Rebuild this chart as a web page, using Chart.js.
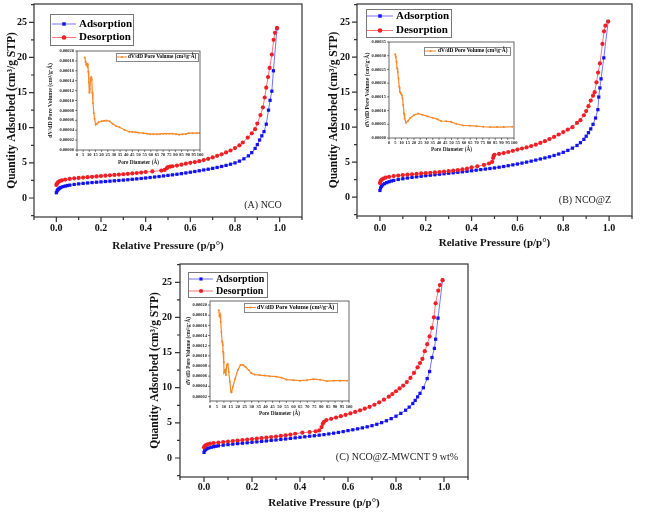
<!DOCTYPE html>
<html><head><meta charset="utf-8">
<script src="https://cdn.jsdelivr.net/npm/chart.js@4.4.1/dist/chart.umd.min.js"></script>
<style>
html,body{margin:0;padding:0;background:#fff;}
#wrap{position:relative;width:669px;height:514px;overflow:hidden;background:#fff;}
canvas{position:absolute;}
</style></head><body><div id="wrap">
<canvas id="mainA" width="310" height="255" style="left:0px;top:0px;width:310px;height:255px"></canvas>
<canvas id="mainB" width="347" height="255" style="left:322px;top:0px;width:347px;height:255px"></canvas>
<canvas id="mainC" width="330" height="256" style="left:145px;top:258px;width:330px;height:256px"></canvas>
<canvas id="insA" width="160" height="125" style="left:45px;top:45px;width:160px;height:125px"></canvas>
<canvas id="insB" width="165" height="125" style="left:355px;top:35px;width:165px;height:125px"></canvas>
<canvas id="insC" width="172" height="125" style="left:182px;top:295px;width:172px;height:125px"></canvas>
</div>
<script>
// ---------------- DATA ----------------
const seriesNames = ['Adsorption', 'Desorption'];
const panelLabels = ['(A) NCO', '(B) NCO@Z', '(C) NCO@Z-MWCNT 9 wt%'];
const xTitle = 'Relative Pressure (p/p°)';
const yTitle = 'Quantity Adsorbed (cm³/g STP)';
const insetName = 'dV/dD Pore Volume (cm³/g·Å)';
const insetXTitle = 'Pore Diameter (Å)';
const insetYTitle = 'dV/dD Pore Volume (cm³/g·Å)';

// tick values
const xTicksMain = [0, 0.2, 0.4, 0.6, 0.8, 1.0];
const yTicksMain = [0, 5, 10, 15, 20, 25];
const xTicksInset = [0, 5, 10, 15, 20, 25, 30, 35, 40, 45, 50, 55, 60, 65, 70, 75, 80, 85, 90, 95, 100];
const yTicksInsetA = [0, 0.00002, 0.00004, 0.00006, 0.00008, 0.0001, 0.00012, 0.00014, 0.00016, 0.00018, 0.0002];
const yTicksInsetB = [0, 0.00005, 0.0001, 0.00015, 0.0002, 0.00025, 0.0003, 0.00035];
const yTicksInsetC = [0.00002, 0.00004, 0.00006, 0.00008, 0.0001, 0.00012, 0.00014, 0.00016, 0.00018, 0.0002];

// [relative pressure, quantity adsorbed]
const adsA = [[0,0.75],[0.003,1.0],[0.006,1.15],[0.01,1.28],[0.015,1.4],[0.02,1.5],[0.03,1.62],[0.04,1.7],[0.05,1.77],[0.06,1.83],[0.08,1.93],[0.1,2.01],[0.12,2.08],[0.14,2.14],[0.16,2.2],[0.18,2.25],[0.2,2.3],[0.22,2.35],[0.24,2.4],[0.26,2.45],[0.28,2.5],[0.3,2.55],[0.32,2.6],[0.34,2.66],[0.36,2.72],[0.38,2.78],[0.4,2.85],[0.42,2.92],[0.44,2.99],[0.46,3.06],[0.48,3.14],[0.5,3.22],[0.52,3.3],[0.54,3.38],[0.56,3.47],[0.58,3.57],[0.6,3.67],[0.62,3.77],[0.64,3.88],[0.66,3.99],[0.68,4.1],[0.7,4.22],[0.72,4.35],[0.74,4.49],[0.76,4.64],[0.78,4.81],[0.8,5.0],[0.82,5.25],[0.84,5.58],[0.86,6.0],[0.875,6.45],[0.89,7.05],[0.9,7.6],[0.91,8.25],[0.92,8.85],[0.93,9.45],[0.94,10.5],[0.95,12.5],[0.957,13.9],[0.965,15.2],[0.972,18.1],[0.988,24.1]];
const desA = [[0,1.85],[0.003,2.05],[0.008,2.25],[0.015,2.4],[0.025,2.52],[0.04,2.62],[0.06,2.72],[0.08,2.8],[0.1,2.86],[0.12,2.91],[0.14,2.96],[0.16,3.01],[0.18,3.07],[0.2,3.13],[0.22,3.18],[0.24,3.23],[0.26,3.28],[0.28,3.33],[0.3,3.38],[0.32,3.44],[0.34,3.5],[0.36,3.56],[0.38,3.62],[0.4,3.7],[0.43,3.78],[0.47,3.9],[0.485,4.0],[0.495,4.25],[0.5,4.4],[0.51,4.47],[0.52,4.52],[0.54,4.62],[0.56,4.75],[0.58,4.88],[0.6,5.0],[0.62,5.12],[0.64,5.24],[0.66,5.4],[0.68,5.58],[0.7,5.78],[0.72,6.0],[0.74,6.22],[0.76,6.48],[0.78,6.76],[0.8,7.1],[0.82,7.5],[0.835,7.9],[0.857,8.6],[0.875,9.2],[0.89,9.8],[0.9,10.6],[0.914,11.8],[0.925,12.9],[0.933,14.3],[0.94,15.7],[0.948,17.2],[0.955,18.5],[0.965,20.4],[0.973,22.5],[0.979,23.5],[0.988,24.2]];

const adsB = [[0,0.95],[0.003,1.3],[0.007,1.55],[0.012,1.75],[0.02,1.92],[0.03,2.07],[0.04,2.2],[0.05,2.3],[0.06,2.38],[0.08,2.52],[0.1,2.63],[0.12,2.73],[0.14,2.82],[0.16,2.9],[0.18,2.98],[0.2,3.06],[0.22,3.13],[0.24,3.2],[0.26,3.27],[0.28,3.34],[0.3,3.41],[0.32,3.48],[0.34,3.55],[0.36,3.62],[0.38,3.69],[0.4,3.77],[0.42,3.85],[0.44,3.93],[0.46,4.01],[0.48,4.09],[0.5,4.17],[0.52,4.27],[0.54,4.37],[0.56,4.49],[0.58,4.61],[0.6,4.73],[0.62,4.86],[0.64,5.0],[0.66,5.14],[0.68,5.29],[0.7,5.45],[0.72,5.6],[0.74,5.76],[0.76,5.95],[0.78,6.16],[0.8,6.4],[0.82,6.68],[0.84,7.0],[0.86,7.38],[0.875,7.78],[0.89,8.25],[0.9,8.7],[0.91,9.2],[0.92,9.75],[0.93,10.4],[0.941,11.3],[0.951,12.5],[0.955,14.3],[0.96,15.6],[0.965,16.9],[0.977,19.9],[0.996,25.1]];
const desB = [[0,2.0],[0.003,2.3],[0.008,2.5],[0.015,2.65],[0.025,2.78],[0.04,2.9],[0.06,3.0],[0.08,3.08],[0.1,3.15],[0.12,3.21],[0.14,3.27],[0.16,3.32],[0.18,3.38],[0.2,3.43],[0.22,3.48],[0.24,3.53],[0.26,3.59],[0.28,3.65],[0.3,3.72],[0.32,3.79],[0.34,3.87],[0.36,3.96],[0.38,4.06],[0.4,4.25],[0.425,4.4],[0.454,4.6],[0.476,4.8],[0.49,5.05],[0.494,5.6],[0.497,5.95],[0.5,6.05],[0.52,6.17],[0.54,6.3],[0.56,6.45],[0.58,6.62],[0.6,6.8],[0.62,6.95],[0.64,7.1],[0.66,7.3],[0.68,7.5],[0.7,7.75],[0.72,8.0],[0.74,8.3],[0.76,8.6],[0.78,8.95],[0.8,9.3],[0.82,9.65],[0.84,10.0],[0.86,10.6],[0.875,11.0],[0.89,11.7],[0.9,12.3],[0.91,13.0],[0.92,13.8],[0.93,14.5],[0.937,15.0],[0.945,16.4],[0.952,17.8],[0.96,19.1],[0.971,21.9],[0.978,23.7],[0.984,24.5],[0.996,25.1]];

const adsC = [[0,0.8],[0.003,1.05],[0.007,1.22],[0.012,1.33],[0.02,1.43],[0.03,1.53],[0.04,1.61],[0.05,1.68],[0.06,1.74],[0.08,1.83],[0.1,1.91],[0.12,1.98],[0.14,2.05],[0.16,2.11],[0.18,2.17],[0.2,2.24],[0.22,2.3],[0.24,2.36],[0.26,2.43],[0.28,2.5],[0.3,2.57],[0.32,2.64],[0.34,2.71],[0.36,2.79],[0.38,2.87],[0.4,2.95],[0.42,3.02],[0.44,3.1],[0.46,3.17],[0.48,3.25],[0.5,3.33],[0.52,3.43],[0.54,3.53],[0.56,3.64],[0.58,3.76],[0.6,3.9],[0.62,4.02],[0.64,4.15],[0.66,4.29],[0.68,4.44],[0.7,4.6],[0.72,4.8],[0.74,5.03],[0.76,5.3],[0.78,5.6],[0.8,5.95],[0.82,6.35],[0.84,6.8],[0.855,7.24],[0.87,7.75],[0.88,8.2],[0.89,8.7],[0.9,9.2],[0.914,10.0],[0.93,11.3],[0.94,12.3],[0.95,14.3],[0.96,15.6],[0.965,16.9],[0.975,19.9],[0.994,25.3]];
const desC = [[0,1.52],[0.003,1.7],[0.008,1.84],[0.015,1.95],[0.025,2.04],[0.04,2.12],[0.06,2.2],[0.08,2.27],[0.1,2.35],[0.12,2.42],[0.14,2.49],[0.16,2.56],[0.18,2.63],[0.2,2.7],[0.22,2.77],[0.24,2.84],[0.26,2.91],[0.28,2.98],[0.3,3.06],[0.32,3.14],[0.34,3.23],[0.36,3.33],[0.38,3.45],[0.41,3.6],[0.44,3.7],[0.465,3.8],[0.48,3.92],[0.49,4.4],[0.495,4.86],[0.5,5.15],[0.51,5.4],[0.53,5.58],[0.55,5.76],[0.57,5.95],[0.59,6.15],[0.61,6.35],[0.63,6.56],[0.65,6.78],[0.67,7.02],[0.69,7.28],[0.71,7.58],[0.73,7.92],[0.75,8.3],[0.77,8.72],[0.785,9.1],[0.8,9.5],[0.815,9.9],[0.83,10.3],[0.845,10.8],[0.86,11.4],[0.875,12.1],[0.89,12.9],[0.9,13.5],[0.91,14.1],[0.92,15.2],[0.93,16.2],[0.94,17.3],[0.95,18.5],[0.958,20.0],[0.965,22.0],[0.976,23.8],[0.983,24.6],[0.994,25.3]];

// [pore diameter (Å), dV/dD pore volume]
const poreA = [[6.3,0.000187],[7.0,0.000178],[7.5,0.000172],[8.0,0.000175],[8.5,0.000168],[8.9,0.000173],[9.2,0.000158],[9.6,0.000137],[10.0,0.000116],[10.5,0.000123],[11.0,0.000144],[11.5,0.000147],[12.0,0.000142],[12.5,0.000116],[13.0,0.000095],[13.7,0.000074],[14.3,0.000063],[15.2,0.000051],[16.3,0.000053],[17.6,0.000056],[20.0,0.000058],[22.0,0.000059],[24.0,0.0000595],[26.5,0.000058],[29.0,0.000053],[32.0,0.000048],[34.5,0.000046],[38.5,0.000041],[42.5,0.000037],[45.0,0.0000365],[47.5,0.000036],[50.0,0.000035],[54.0,0.000034],[57.0,0.000033],[59.5,0.000032],[62.0,0.000032],[65.0,0.000032],[67.5,0.0000325],[70.0,0.000033],[72.5,0.000033],[75.0,0.000033],[77.5,0.000033],[80.5,0.000032],[83.0,0.000031],[86.0,0.000032],[88.5,0.0000325],[91.0,0.000034],[94.0,0.000034],[97.5,0.000034],[100.0,0.0000345]];
const poreB = [[5.0,0.000305],[5.4,0.000296],[6.0,0.000278],[6.5,0.000254],[7.0,0.000241],[7.6,0.000217],[8.2,0.000187],[8.7,0.000168],[9.5,0.000162],[10.3,0.000156],[10.9,0.000144],[11.4,0.00012],[12.0,0.000089],[12.5,0.000071],[13.6,0.000056],[15.2,0.000062],[17.1,0.000073],[19.8,0.000083],[23.4,0.000089],[26.6,0.000085],[30.7,0.000079],[34.8,0.000074],[38.9,0.000068],[41.6,0.000062],[45.7,0.000061],[49.7,0.000059],[53.8,0.000052],[59.2,0.000046],[64.7,0.000045],[70.1,0.000043],[75.5,0.000041],[81.0,0.00004],[86.4,0.00004],[91.8,0.00004],[98.6,0.000041]];
const poreC = [[6.3,0.00019],[6.8,0.000179],[7.2,0.000182],[7.7,0.000167],[8.2,0.000147],[8.7,0.000128],[9.2,0.000121],[9.4,0.000108],[9.9,0.000088],[10.1,0.000067],[10.9,0.000072],[11.4,0.000062],[12.1,0.000082],[12.8,0.000084],[13.5,0.000068],[14.3,0.000049],[15.0,0.000029],[15.5,0.000028],[16.4,0.000039],[18.1,0.000055],[20.0,0.000072],[22.0,0.000082],[23.7,0.000082],[25.6,0.000078],[27.8,0.000072],[29.7,0.000066],[32.1,0.000063],[35.7,0.000062],[39.4,0.000061],[43.0,0.00006],[47.8,0.000059],[51.4,0.000057],[55.1,0.000053],[59.9,0.000052],[64.7,0.000051],[69.6,0.000052],[74.4,0.000054],[79.2,0.000053],[84.1,0.00005],[88.9,0.000051],[93.7,0.000051],[98.6,0.000051]];

// ---------------- RENDERING ----------------
const SERIF = '"Liberation Serif", "Times New Roman", serif';
const BLUE = '#1212ee', BLUE_LINE = 'rgba(90,90,255,0.85)';
const RED = '#ee1f25', RED_LINE = 'rgba(255,90,100,0.85)';
const ORANGE = '#f5882a';

function drawMarker(ctx, style, x, y, r, color) {
  ctx.fillStyle = color;
  ctx.beginPath();
  if (style === 'rect') ctx.rect(x - r * 0.75, y - r * 0.75, r * 1.5, r * 1.5);
  else ctx.arc(x, y, r, 0, Math.PI * 2);
  ctx.fill();
}

const framePlugin = {
  id: 'frame',
  beforeDraw(chart, args, o) {
    if (!o.fill) return;
    const a = chart.chartArea, ctx = chart.ctx;
    ctx.save(); ctx.fillStyle = '#fff';
    ctx.fillRect(a.left, a.top, a.right - a.left, a.bottom - a.top);
    ctx.restore();
  },
  afterDraw(chart, args, o) {
    const ctx = chart.ctx, a = chart.chartArea;
    const xs = chart.scales.x, ys = chart.scales.y;
    ctx.save();
    ctx.strokeStyle = o.color; ctx.lineWidth = o.lw;
    ctx.strokeRect(a.left, a.top, a.right - a.left, a.bottom - a.top);
    const marks = (scale) => {
      const vals = scale.ticks.map(t => t.value);
      const out = vals.map(v => [v, o.major]);
      if (o.minor && vals.length > 1) {
        const st = vals[1] - vals[0];
        for (let i = 0; i < vals.length - 1; i++) out.push([(vals[i] + vals[i + 1]) / 2, o.minor]);
        out.push([vals[0] - st / 2, o.minor], [vals[vals.length - 1] + st / 2, o.minor]);
      }
      const eps = (scale.max - scale.min) * 1e-6;
      return out.filter(m => m[0] >= scale.min - eps && m[0] <= scale.max + eps);
    };
    ctx.beginPath();
    marks(xs).forEach(([v, len]) => { const px = xs.getPixelForValue(v); ctx.moveTo(px, a.bottom); ctx.lineTo(px, a.bottom + len); });
    marks(ys).forEach(([v, len]) => { const py = ys.getPixelForValue(v); ctx.moveTo(a.left, py); ctx.lineTo(a.left - len, py); });
    ctx.stroke();
    const L = o.legend;
    if (L) {
      ctx.strokeStyle = L.boxColor; ctx.lineWidth = 1;
      ctx.strokeRect(L.x + 0.5, L.y + 0.5, L.w, L.h);
      chart.data.datasets.forEach((ds, i) => {
        const y = L.y + L.rows[i];
        ctx.strokeStyle = ds.borderColor; ctx.lineWidth = 1;
        ctx.beginPath(); ctx.moveTo(L.x + L.l0, y); ctx.lineTo(L.x + L.l1, y); ctx.stroke();
        drawMarker(ctx, ds.pointStyle, L.x + (L.l0 + L.l1) / 2, y, L.r, ds.pointBackgroundColor);
        ctx.fillStyle = '#000'; ctx.font = L.font; ctx.textBaseline = 'middle'; ctx.textAlign = 'left';
        ctx.fillText(ds.label, L.x + L.tx, y + (L.dy || 0));
      });
    }
    const P = o.panel;
    if (P) {
      ctx.fillStyle = '#222'; ctx.font = P.font; ctx.textAlign = 'center'; ctx.textBaseline = 'middle';
      ctx.fillText(P.text, P.x, P.y);
    }
    ctx.restore();
  }
};
Chart.register(framePlugin);

const setTicks = (vals) => (scale) => { scale.ticks = vals.map(v => ({ value: v })); };

function mainChart(id, ads, des, g, panelText) {
  new Chart(document.getElementById(id), {
    type: 'scatter',
    data: { datasets: [
      { label: seriesNames[0], data: ads.map(d => ({x: d[0], y: d[1]})), showLine: true,
        borderColor: BLUE_LINE, borderWidth: 1, pointStyle: 'rect', pointRadius: 2.3,
        pointBackgroundColor: BLUE, pointBorderWidth: 0, order: 2 },
      { label: seriesNames[1], data: des.map(d => ({x: d[0], y: d[1]})), showLine: true,
        borderColor: RED_LINE, borderWidth: 1, pointStyle: 'circle', pointRadius: 2.1,
        pointBackgroundColor: RED, pointBorderWidth: 0, order: 1 }
    ]},
    options: {
      responsive: false, animation: false, events: [],
      layout: { padding: { left: 0, top: g.top, right: g.right, bottom: 0 } },
      plugins: {
        legend: { display: false }, tooltip: { enabled: false },
        frame: { color: '#333', lw: 1.2, major: 5, minor: 3, legend: g.legend,
                 panel: { text: panelText, x: g.px, y: g.py, font: '10px ' + SERIF } }
      },
      scales: {
        x: { type: 'linear', min: -0.1, max: 1.1, afterBuildTicks: setTicks(xTicksMain),
             ticks: { autoSkip: false, maxRotation: 0, padding: 0, color: '#111',
                      font: { family: SERIF, size: 10, weight: 'bold', lineHeight: 1 },
                      callback: v => Number(v).toFixed(1) },
             grid: { display: false, drawTicks: true, tickLength: g.xpad }, border: { display: false },
             title: { display: true, text: xTitle, color: '#111', padding: { top: 0, bottom: g.xtp },
                      font: { family: SERIF, size: 11, weight: 'bold' } },
             afterFit: s => { s.height = g.xh; } },
        y: { type: 'linear', min: -2.7, max: 27.6, afterBuildTicks: setTicks(yTicksMain),
             ticks: { padding: 0, color: '#111',
                      font: { family: SERIF, size: 10, weight: 'bold', lineHeight: 0.8 },
                      callback: v => String(v) },
             grid: { display: false, drawTicks: true, tickLength: g.ypad }, border: { display: false },
             title: { display: true, text: yTitle, color: '#111', padding: { top: g.ytp, bottom: 0 },
                      font: { family: SERIF, size: 11.5, weight: 'bold' } },
             afterFit: s => { s.width = g.yw; } }
      }
    }
  });
}

function insetChart(id, pts, g) {
  new Chart(document.getElementById(id), {
    type: 'scatter',
    data: { datasets: [
      { label: insetName, data: pts.map(d => ({x: d[0], y: d[1]})), showLine: true,
        borderColor: ORANGE, borderWidth: 1.2, pointStyle: 'circle', pointRadius: 1,
        pointBackgroundColor: ORANGE, pointBorderWidth: 0 }
    ]},
    options: {
      responsive: false, animation: false, events: [],
      layout: { padding: { left: 0, top: g.top, right: g.right, bottom: 0 } },
      plugins: {
        legend: { display: false }, tooltip: { enabled: false },
        frame: { fill: true, color: '#444', lw: 0.8, major: 1.8, minor: 0, legend: g.legend }
      },
      scales: {
        x: { type: 'linear', min: 0, max: 100, afterBuildTicks: setTicks(xTicksInset),
             ticks: { autoSkip: false, maxRotation: 0, padding: 0, color: '#222',
                      font: { family: SERIF, size: 4.5, weight: 'bold', lineHeight: 1 } },
             grid: { display: false, drawTicks: true, tickLength: g.xpad }, border: { display: false },
             title: { display: true, text: insetXTitle, color: '#222', padding: { top: 0, bottom: g.xtp },
                      font: { family: SERIF, size: 5.2, weight: 'bold' } },
             afterFit: s => { s.height = g.xh; } },
        y: { type: 'linear', min: g.ymin, max: g.ymax, afterBuildTicks: setTicks(g.yticks),
             ticks: { padding: 0, color: '#222',
                      font: { family: SERIF, size: 4.5, weight: 'bold', lineHeight: 1 },
                      callback: v => Number(v).toFixed(5) },
             grid: { display: false, drawTicks: true, tickLength: g.ypad }, border: { display: false },
             title: { display: true, text: insetYTitle, color: '#222', padding: { top: g.ytp, bottom: 0 },
                      font: { family: SERIF, size: g.ytfs, weight: 'bold' } },
             afterFit: s => { s.width = g.yw; } }
      }
    }
  });
}

mainChart('mainA', adsA, desA, {
  top: 4, right: 8, yw: 34, xh: 38, xpad: 6, ypad: 7, xtp: 2.4, ytp: 4.8, px: 263, py: 205,
  legend: { x: 50, y: 14, w: 83, h: 31, rows: [10, 23.5], l0: 2, l1: 26, tx: 29, r: 2.3, boxColor: '#777', font: 'bold 11px ' + SERIF }
}, panelLabels[0]);
mainChart('mainB', adsB, desB, {
  top: 3, right: 37, yw: 35, xh: 39, xpad: 7, ypad: 7, xtp: 5.4, ytp: 4.8, px: 263, py: 200,
  legend: { x: 44, y: 9, w: 85, h: 28, rows: [7, 21.5], l0: 1, l1: 27, tx: 30, r: 2.3, boxColor: '#777', font: 'bold 11px ' + SERIF }
}, panelLabels[1]);
mainChart('mainC', adsC, desC, {
  top: 6, right: 7, yw: 35, xh: 37, xpad: 5, ypad: 8, xtp: 4.4, ytp: 2.8, px: 252, py: 199,
  legend: { x: 43, y: 14, w: 79, h: 25, rows: [7, 19], l0: 1, l1: 25, tx: 28, r: 2.1, boxColor: '#777', font: 'bold 10px ' + SERIF }
}, panelLabels[2]);

insetChart('insA', poreA, {
  top: 6, right: 5, yw: 32, xh: 20, xpad: 3, ypad: 3, xtp: 3.9, ytp: 2.5, ytfs: 5.8,
  ymin: 0, ymax: 0.0002, yticks: yTicksInsetA,
  legend: { x: 71, y: 8, w: 82, h: 8, rows: [4], l0: 1, l1: 11, tx: 12, r: 1.1, boxColor: '#888', font: 'bold 5.3px ' + SERIF }
});
insetChart('insB', poreB, {
  top: 7, right: 6, yw: 34, xh: 22, xpad: 3, ypad: 3, xtp: 6.9, ytp: 9.5, ytfs: 5.8,
  ymin: 0, ymax: 0.00035, yticks: yTicksInsetB,
  legend: { x: 69, y: 12, w: 86, h: 8, rows: [4], l0: 1, l1: 12, tx: 14, r: 1.1, boxColor: '#888', font: 'bold 5.4px ' + SERIF }
});
insetChart('insC', poreC, {
  top: 6, right: 5, yw: 28, xh: 19, xpad: 3.5, ypad: 3, xtp: 2.9, ytp: 3.8, ytfs: 5.3,
  ymin: 0.000011, ymax: 0.000208, yticks: yTicksInsetC,
  legend: { x: 62, y: 8, w: 93, h: 9, rows: [4.5], l0: 1, l1: 12, tx: 13, r: 1.1, boxColor: '#888', font: 'bold 6px ' + SERIF }
});
</script>
</body></html>
